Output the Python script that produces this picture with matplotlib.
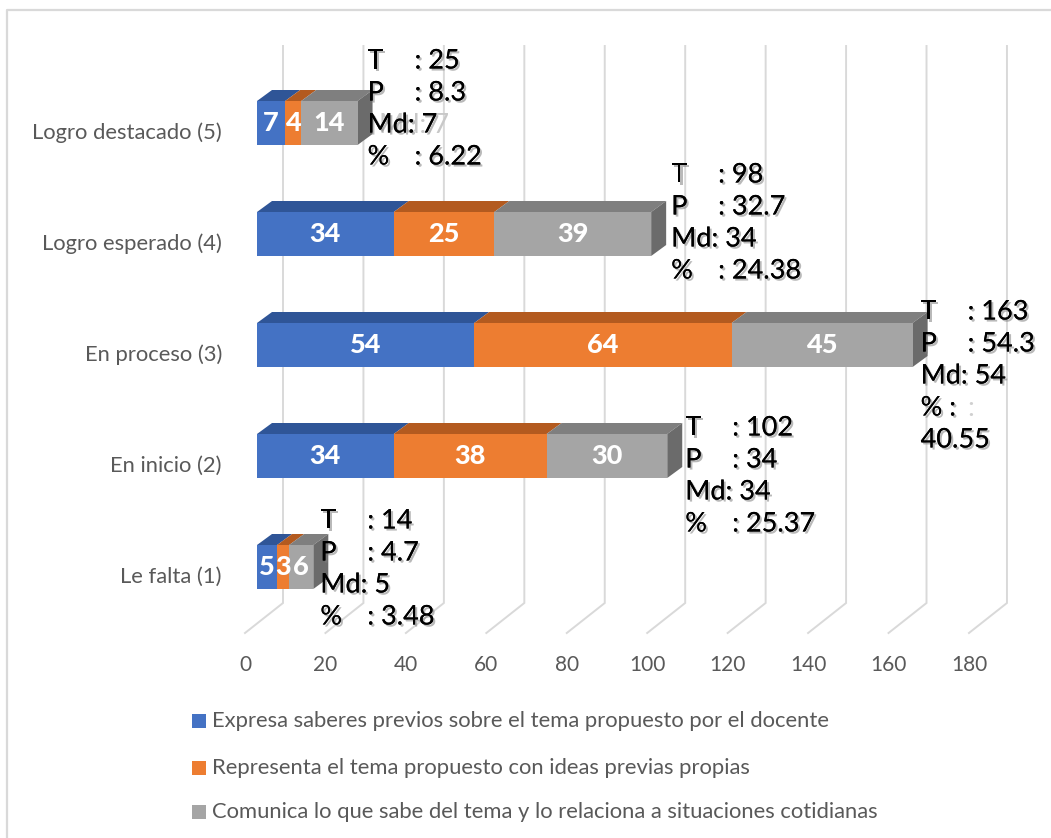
import matplotlib
matplotlib.use("Agg")
import matplotlib.pyplot as plt
from matplotlib.patches import Polygon, Rectangle
import matplotlib.patheffects as pe

# ---------------- data ----------------
categories = ["Le falta (1)", "En inicio (2)", "En proceso (3)",
              "Logro esperado (4)", "Logro destacado (5)"]
series_names = ["Expresa saberes previos sobre el tema propuesto por el docente",
                "Representa el tema propuesto con ideas previas propias",
                "Comunica lo que sabe del tema y lo relaciona a situaciones cotidianas"]
s_expresa = [5, 34, 54, 34, 7]
s_representa = [3, 38, 64, 25, 4]
s_comunica = [6, 30, 45, 39, 14]
tot_T = [14, 102, 163, 98, 25]
mean_P = ["4.7", "34", "54.3", "32.7", "8.3"]
med_Md = [5, 34, 54, 34, 7]
pct = ["3.48", "25.37", "40.55", "24.38", "6.22"]
xticks = [0, 20, 40, 60, 80, 100, 120, 140, 160, 180]

# ---------------- style ----------------
face = ["#4472C4", "#ED7D31", "#A5A5A5"]
top = ["#2F5597", "#B35A1F", "#7F7F7F"]
side = "#6B6B6B"
grid_c = "#D9D9D9"
txt_c = "#595959"
FONT = "Lato"

W, H = 1051, 838
X0, SX = 257.0, 4.022   # px of value 0 (bar front), px per unit
Y0, SY = 567.0, 111.0   # px of bottom category centre, px per category

def ux(p):
    return p / SX

def uy(p):
    return p / SY

fig = plt.figure(figsize=(W / 100, H / 100), dpi=100)
ax = fig.add_axes([0, 0, 1, 1])
ax.set_xlim(-X0 / SX, (W - X0) / SX)
ax.set_ylim((Y0 - H) / SY, Y0 / SY)
ax.axis("off")

# frame
ax.plot([7 / W, 7 / W, 1.01], [-0.01, 1 - 10 / H, 1 - 10 / H], transform=ax.transAxes,
        color=grid_c, lw=1.6, clip_on=False)

# gridlines (back wall + floor)
back_dx, front_dx = ux(26), ux(-12)
y_top, y_back, y_front = uy(Y0 - 46), uy(Y0 - 603), uy(Y0 - 633)
for v in xticks:
    ax.plot([v + back_dx, v + back_dx, v + front_dx], [y_top, y_back, y_front],
            color=grid_c, lw=1.4, zorder=1, solid_joinstyle="miter")
    ax.text(v + front_dx, uy(Y0 - 665), str(v), ha="center", va="center",
            fontsize=15, color=txt_c, family=FONT)

# bars
h = uy(44)
ddx, ddy = ux(15), uy(11)
series = [s_expresa, s_representa, s_comunica]
for i in range(len(categories)):
    left = 0
    for s, vals in enumerate(series):
        v = vals[i]
        ax.barh(i, v, left=left, height=h, color=face[s], zorder=3, linewidth=0)
        yt = i + h / 2
        ax.add_patch(Polygon([(left, yt), (left + v, yt), (left + v + ddx, yt + ddy),
                              (left + ddx, yt + ddy)], closed=True, facecolor=top[s],
                             edgecolor="none", zorder=2.9))
        left += v
    yb = i - h / 2
    ax.add_patch(Polygon([(left, yb), (left, yb + h), (left + ddx, yb + h + ddy),
                          (left + ddx, yb + ddy)], closed=True, facecolor=side,
                         edgecolor="none", zorder=2.9))
    left = 0
    for s, vals in enumerate(series):
        v = vals[i]
        ax.text(left + v / 2, i, str(v), ha="center", va="center", color="white",
                fontsize=19.5, fontweight="black", family=FONT, zorder=5)
        left += v
    ax.text(ux(222 - X0), i - uy(10), categories[i], ha="right", va="center",
            fontsize=15.8, color=txt_c, family=FONT)

# annotations
ann_dx = [7, 18, 8, 20, 10]
ann_dy = [-46, -28, -33, -59, -62]
line_gap = uy(32)
colon_dx = ux(47)
shadow = [pe.withSimplePatchShadow(offset=(1.5, -1.5), shadow_rgbFace="#808080", alpha=0.55),
          pe.Normal()]
kw = dict(fontsize=19.5, family=FONT, color="black", va="center", ha="left", zorder=6,
          path_effects=shadow)
for i in range(len(categories)):
    end = s_expresa[i] + s_representa[i] + s_comunica[i]
    x = end + ux(ann_dx[i])
    y = i - uy(ann_dy[i])
    ax.text(x, y, "T", **kw)
    ax.text(x + colon_dx, y, ": %d" % tot_T[i], **kw)
    ax.text(x, y - line_gap, "P", **kw)
    ax.text(x + colon_dx, y - line_gap, ": " + mean_P[i], **kw)
    if i == 4:
        ax.text(x + ux(11), y - 2 * line_gap, "Md: %d" % med_Md[i], fontsize=19.5,
                family=FONT, color="#C8C8C8", va="center", ha="left", zorder=5.5)
    ax.text(x, y - 2 * line_gap, "Md: %d" % med_Md[i], **kw)
    if i == 2:
        ax.text(x, y - 3 * line_gap, "% :", **kw)
        ax.text(x + colon_dx, y - 3 * line_gap, ":", fontsize=19.5, family=FONT,
                color="#D0D0D0", va="center", ha="left", zorder=6)
        ax.text(x, y - 4 * line_gap, pct[i], **kw)
    else:
        ax.text(x, y - 3 * line_gap, "%", **kw)
        ax.text(x + colon_dx, y - 3 * line_gap, ": " + pct[i], **kw)

# legend
leg_y = [721, 768, 812]
for s, name in enumerate(series_names):
    yc = uy(Y0 - leg_y[s])
    ax.add_patch(Rectangle((ux(192 - X0), yc - uy(7)), ux(14), uy(14),
                           facecolor=face[s], edgecolor="none"))
    ax.text(ux(212 - X0), yc, name, ha="left", va="center", fontsize=15.8,
            color=txt_c, family=FONT)

fig.savefig("out.png", dpi=100)
